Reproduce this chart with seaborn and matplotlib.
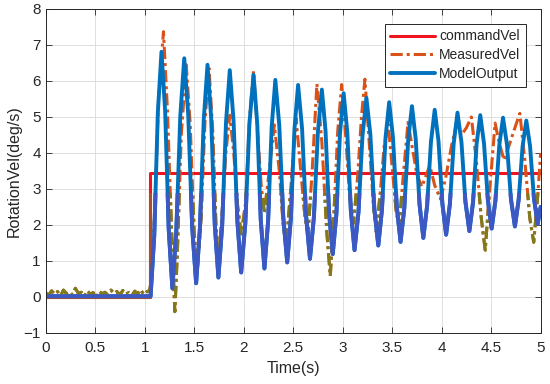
"""Step response: command, measured and model rotation velocity"""
import numpy as np
import matplotlib
matplotlib.use('Agg')
import matplotlib.pyplot as plt
from matplotlib.patches import Rectangle
import seaborn as sns

# commandVel: step at t=1.05 s
cmd_t = [0.0, 1.05, 1.05, 5.0]
cmd_v = [0.0, 0.0, 3.44, 3.44]

# MeasuredVel (noise before the step, then the oscillation)
meas_t = [0.0, 0.03, 0.06, 0.09, 0.12, 0.15, 0.18, 0.21, 0.24, 0.27, 0.30, 0.33, 0.36, 0.39,
          0.42, 0.45, 0.48, 0.51, 0.54, 0.57, 0.60, 0.63, 0.66, 0.69, 0.72, 0.75, 0.78, 0.81,
          0.84, 0.87, 0.90, 0.93, 0.96, 0.99, 1.02, 1.05,
          1.07, 1.10, 1.14, 1.19, 1.23, 1.27, 1.305, 1.33, 1.37, 1.42, 1.46, 1.50, 1.53, 1.57,
          1.61, 1.65, 1.69, 1.72, 1.745, 1.78, 1.82, 1.86, 1.90, 1.94, 1.975, 2.02, 2.06, 2.10,
          2.14, 2.18, 2.21, 2.25, 2.31, 2.36, 2.40, 2.43, 2.47, 2.53, 2.58, 2.62, 2.65, 2.69,
          2.74, 2.79, 2.84, 2.875, 2.91, 2.95, 2.99, 3.03, 3.07, 3.11, 3.15, 3.19, 3.225, 3.27,
          3.31, 3.34, 3.38, 3.42, 3.46, 3.50, 3.54, 3.57, 3.61, 3.66, 3.70, 3.75, 3.80, 3.88,
          3.93, 3.99, 4.04, 4.10, 4.15, 4.20, 4.25, 4.30, 4.35, 4.40, 4.44, 4.48, 4.54, 4.58,
          4.63, 4.68, 4.74, 4.79, 4.84, 4.89, 4.93, 4.97, 5.0]
meas_v = [0.12, 0.05, 0.17, 0.08, 0.15, 0.03, 0.19, 0.09, 0.14, 0.06, 0.24, 0.10, 0.13, 0.02,
          0.17, 0.08, 0.12, -0.06, 0.16, 0.09, 0.13, 0.04, 0.19, 0.10, 0.15, 0.06, 0.18, 0.08,
          0.12, 0.03, 0.16, 0.09, 0.20, 0.07, 0.14, 0.18,
          0.5, 2.2, 5.5, 7.37, 5.2, 2.0, -0.41, 1.2, 4.5, 6.45, 4.8, 1.8, 0.7, 2.2,
          4.9, 6.35, 4.5, 2.0, 1.0, 2.2, 4.0, 5.05, 4.0, 2.5, 1.75, 2.6, 5.0, 6.27,
          4.6, 3.0, 2.33, 3.3, 4.78, 3.5, 2.0, 1.40, 2.8, 4.96, 3.4, 2.2, 1.77, 3.4,
          5.92, 4.3, 1.8, 0.58, 2.2, 4.6, 5.90, 4.5, 2.8, 2.05, 3.3, 5.0, 6.05, 4.2,
          2.6, 1.8, 2.9, 4.2, 4.8, 3.6, 2.4, 1.95, 3.3, 4.85, 4.2, 3.4, 3.06, 3.65,
          3.1, 2.72, 3.3, 4.2, 4.8, 4.5, 4.7, 5.0, 3.8, 2.2, 1.30, 2.8, 4.83, 4.3,
          3.8, 4.2, 4.7, 5.10, 3.8, 2.2, 1.52, 2.8, 4.0]

# ModelOutput, peaks / troughs and flank points
model_t = [0.0, 1.06, 1.097, 1.133, 1.17, 1.207, 1.243, 1.28, 1.32, 1.36, 1.40, 1.44, 1.48,
           1.52, 1.558, 1.597, 1.635, 1.672, 1.708, 1.745, 1.783, 1.822, 1.86, 1.898, 1.937,
           1.975, 2.017, 2.058, 2.10, 2.137, 2.173, 2.21, 2.247, 2.283, 2.32, 2.36, 2.40,
           2.44, 2.477, 2.513, 2.55, 2.59, 2.63, 2.67, 2.71, 2.75, 2.79, 2.827, 2.863,
           2.90, 2.937, 2.973, 3.01, 3.047, 3.083, 3.12, 3.16, 3.20, 3.24, 3.28, 3.32,
           3.36, 3.397, 3.433, 3.47, 3.508, 3.547, 3.585, 3.623, 3.662, 3.70, 3.738, 3.777,
           3.815, 3.853, 3.892, 3.93, 3.968, 4.007, 4.045, 4.083, 4.122, 4.16, 4.20, 4.24,
           4.28, 4.317, 4.353, 4.39, 4.428, 4.467, 4.505, 4.543, 4.582, 4.62, 4.66, 4.70,
           4.74, 4.778, 4.817, 4.855, 4.893, 4.932, 4.97, 5.0]
model_v = [0.02, 0.02, 1.70, 5.11, 6.81, 5.17, 1.88, 0.24, 1.84, 5.03, 6.63, 5.07, 1.94,
           0.38, 1.90, 4.93, 6.45, 4.97, 2.02, 0.54, 1.98, 4.86, 6.30, 4.90, 2.09,
           0.68, 2.05, 4.80, 6.17, 4.83, 2.13, 0.79, 2.10, 4.72, 6.03, 4.76, 2.23,
           0.96, 2.19, 4.66, 5.89, 4.68, 2.27, 1.06, 2.23, 4.59, 5.76, 4.62, 2.33,
           1.19, 2.31, 4.54, 5.66, 4.57, 2.39, 1.30, 2.36, 4.47, 5.53, 4.51, 2.45,
           1.43, 2.42, 4.42, 5.41, 4.44, 2.50, 1.53, 2.47, 4.36, 5.30, 4.39, 2.56,
           1.64, 2.53, 4.31, 5.20, 4.33, 2.60, 1.73, 2.58, 4.27, 5.12, 4.30, 2.65,
           1.83, 2.63, 4.25, 5.05, 4.26, 2.69, 1.90, 2.67, 4.21, 4.98, 4.23, 2.72,
           1.96, 2.70, 4.17, 4.90, 4.19, 2.75, 2.03, 2.5]

DASHDOT = (0, (4, 1.3, 1, 1.3))

sns.set_style('ticks')
plt.rcParams['font.family'] = ['Liberation Sans', 'DejaVu Sans']

fig, ax = plt.subplots(figsize=(5.5, 3.84), dpi=100)
fig.subplots_adjust(left=0.083, right=0.983, top=0.9766, bottom=0.133)

sns.lineplot(x=cmd_t, y=cmd_v, ax=ax, estimator=None, sort=False,
             color='#f0141e', linewidth=2.2, label='commandVel')
sns.lineplot(x=meas_t, y=meas_v, ax=ax, estimator=None, sort=False,
             color='#D95319', linewidth=2.2, label='MeasuredVel')
ax.lines[-1].set_linestyle(DASHDOT)
sns.lineplot(x=model_t, y=model_v, ax=ax, estimator=None, sort=False,
             color='#0072BD', linewidth=2.8, label='ModelOutput')

# lower band of the original image has shifted tints: redraw the lines there
low = Rectangle((0, -1), 5, 3.88, transform=ax.transData)
sns.lineplot(x=cmd_t, y=cmd_v, ax=ax, estimator=None, sort=False,
             color='#a8502a', linewidth=2.2)
ax.lines[-1].set_clip_path(low)
sns.lineplot(x=meas_t, y=meas_v, ax=ax, estimator=None, sort=False,
             color='#7f7a1c', linewidth=2.2)
ax.lines[-1].set_linestyle(DASHDOT)
ax.lines[-1].set_clip_path(low)
sns.lineplot(x=model_t, y=model_v, ax=ax, estimator=None, sort=False,
             color='#3c58c4', linewidth=2.8)
ax.lines[-1].set_clip_path(low)

ax.set_xlim(0, 5)
ax.set_ylim(-1, 8)
ax.set_xticks(np.arange(0, 5.01, 0.5))
ax.set_xticklabels(['0', '0.5', '1', '1.5', '2', '2.5', '3', '3.5', '4', '4.5', '5'])
ax.set_yticks(range(-1, 9))
ax.grid(True, color='#dedede', linewidth=0.7)
ax.set_axisbelow(True)
ax.tick_params(direction='in', top=True, right=True, length=4, width=0.6,
               labelsize=11, colors='#262626')
ax.tick_params(axis='x', pad=6)
for sp in ax.spines.values():
    sp.set_color('#262626')
    sp.set_linewidth(0.7)
ax.set_xlabel('Time(s)', fontsize=11.5, color='#262626', labelpad=4)
ax.set_ylabel('RotationVel(deg/s)', fontsize=11.5, color='#262626', labelpad=1)

handles, labels = ax.get_legend_handles_labels()
leg = ax.legend(handles[:3], labels[:3], loc='upper right', bbox_to_anchor=(0.970, 0.954),
                borderaxespad=0, fontsize=10, handlelength=3.2, handletextpad=0.3,
                labelspacing=0.35, fancybox=False, framealpha=1, edgecolor='#262626',
                borderpad=0.4)
leg.get_frame().set_linewidth(0.7)
leg.get_lines()[1].set_linestyle(DASHDOT)

plt.savefig('out.png', dpi=100)
